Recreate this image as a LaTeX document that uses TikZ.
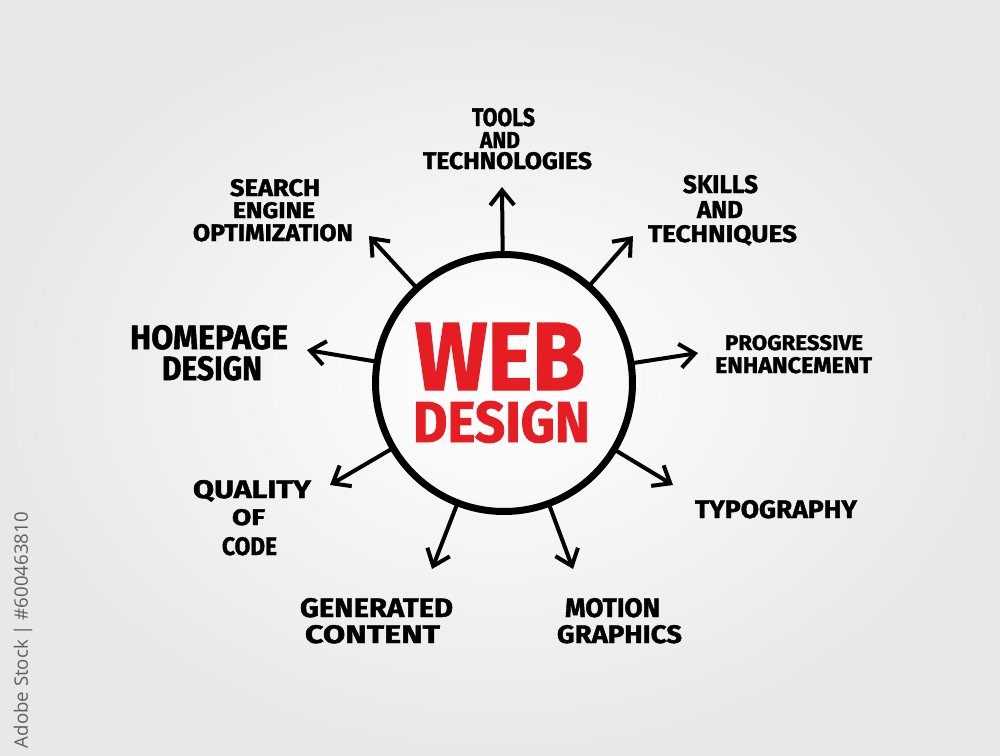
\documentclass[tikz,border=0pt]{standalone}
\usepackage{fontspec}
\usepackage{graphicx}
\setmainfont[BoldFeatures={FakeBold=1.5}]{Fira Sans}
\newfontfamily\wmfont{Open Sans}
\usetikzlibrary{arrows.meta}
\newdimen\pxu \pxu=0.02cm
\newcommand\hw[3]{\resizebox{#1\pxu}{#2\pxu}{#3}}
\definecolor{titlered}{RGB}{230,30,36}
\definecolor{wmgray}{RGB}{95,95,95}
\begin{document}
\begin{tikzpicture}[x=0.02cm,y=-0.02cm,
  lab/.style={anchor=base,inner sep=0pt,font=\bfseries,text=black},
  ttl/.style={anchor=base,inner sep=0pt,font=\bfseries,text=titlered},
  arr/.style={line width=0.08cm,line cap=round,line join=round,
    -{Straight Barb[length=0.3cm,width=0.48cm]}}]
\useasboundingbox (0,0) rectangle (1000,755);
\shade[inner color=white,outer color=black!9] (0,0) rectangle (1000,755);

% central circle
\node[draw,circle,line width=0.14cm,minimum size=5.14cm,inner sep=0pt] (c) at (504,383) {};
\node[ttl] (web) at (500,390) {\hw{170}{67}{WEB}};
\node[ttl] (design) at (501.5,442) {\hw{177}{41}{DESIGN}};

% labels
\node[lab] (tools1) at (503.5,126) {\hw{63}{18}{TOOLS}};
\node[lab] (tools2) at (500,148) {\hw{40}{16}{AND}};
\node[lab] (tools3) at (507.5,169) {\hw{169}{17}{TECHNOLOGIES}};

\node[lab] (skills1) at (720.5,193) {\hw{75}{18}{SKILLS}};
\node[lab] (skills2) at (720,218) {\hw{46}{17}{AND}};
\node[lab] (skills3) at (722.5,242) {\hw{149}{17}{TECHNIQUES}};

\node[lab] (seo1) at (275,196) {\hw{90}{17}{SEARCH}};
\node[lab] (seo2) at (274,218) {\hw{82}{16}{ENGINE}};
\node[lab] (seo3) at (273,241) {\hw{160}{17}{OPTIMIZATION}};

\node[lab] (home1) at (209,349) {\hw{158}{24}{HOMEPAGE}};
\node[lab] (home2) at (212,380) {\hw{100}{24}{DESIGN}};

\node[lab] (prog1) at (794,350) {\hw{138}{15}{PROGRESSIVE}};
\node[lab] (prog2) at (793.5,373) {\hw{157}{16}{ENHANCEMENT}};

\node[lab] (typo) at (776,518) {\hw{162}{18}{TYPOGRAPHY}};

\node[lab] (qual1) at (252,498) {\hw{118}{18}{QUALITY}};
\node[lab] (qual2) at (248.5,525) {\hw{33}{16}{OF}};
\node[lab] (qual3) at (249.5,555) {\hw{55}{18}{CODE}};

\node[lab] (gen1) at (376.5,617) {\hw{153}{19}{GENERATED}};
\node[lab] (gen2) at (372.5,643) {\hw{135}{18}{CONTENT}};

\node[lab] (mot1) at (612.5,617) {\hw{95}{19}{MOTION}};
\node[lab] (mot2) at (619.5,643) {\hw{125}{18}{GRAPHICS}};

% arrow tips
\coordinate (ttools) at (502,187);
\coordinate (tskills) at (633,236);
\coordinate (tseo) at (369,236);
\coordinate (tprog) at (698,353);
\coordinate (ttypo) at (673,485);
\coordinate (tgen) at (432,569);
\coordinate (tmot) at (573,569);
\coordinate (thome) at (307,350);
\coordinate (tqual) at (330,485);

\foreach \t in {ttools,tskills,tseo,tprog,ttypo,tgen,tmot,thome,tqual}
  \draw[arr] (c) -- (\t);

% vertical stock credit
\node[rotate=90,anchor=east,inner sep=0pt,font=\wmfont\fontsize{10.6}{13}\selectfont,text=wmgray]
  (credit) at (23,512) {Adobe Stock | \#600463810};
\end{tikzpicture}
\end{document}
